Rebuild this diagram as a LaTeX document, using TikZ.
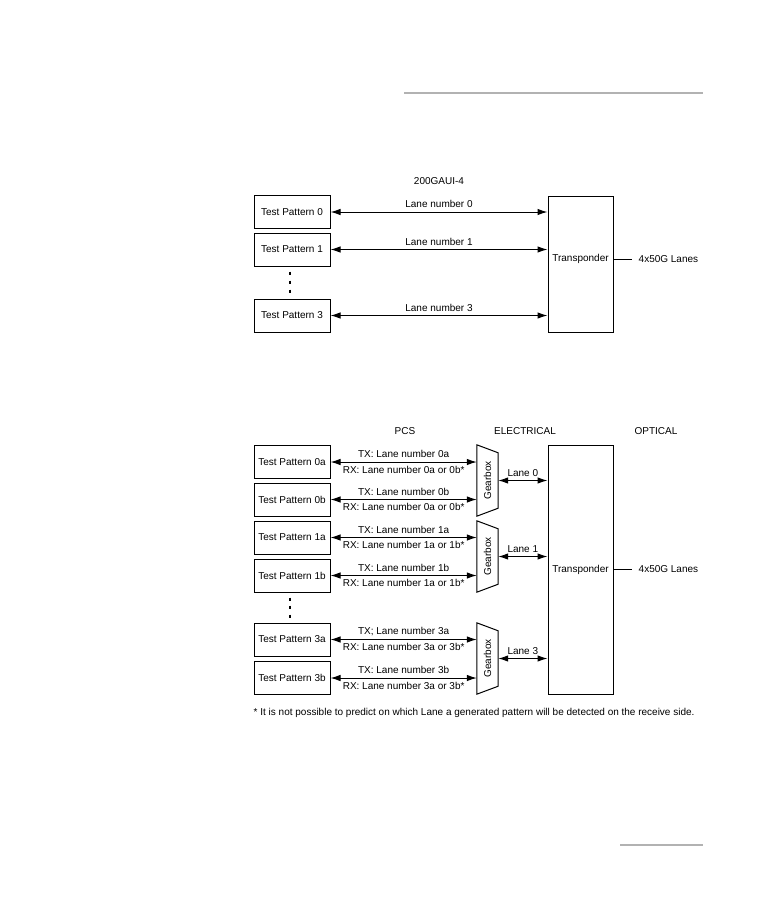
\documentclass[tikz,border=0pt]{standalone}
\usepackage{fontspec}
\setmainfont{Liberation Sans}
\usepackage{tikz}
\usetikzlibrary{arrows.meta, positioning}

\begin{document}
\begin{tikzpicture}[
      x=1pt, y=-1pt,
      patbox/.style={
         rectangle,
         draw=black,
         line width=1pt,
         inner sep=0pt,
         minimum width=76pt,
         minimum height=33pt,
         font=\fontsize{10}{12}\selectfont},
      trbox/.style={
         rectangle,
         draw=black,
         line width=1pt,
         inner sep=0pt,
         minimum width=65pt,
         font=\fontsize{10}{12}\selectfont},
      gbox/.style={
         rectangle,
         inner sep=0pt,
         minimum width=21pt,
         minimum height=71pt},
      lbl/.style={font=\fontsize{10}{12}\selectfont, inner sep=3.5pt},
      myarrow/.style={{Latex[length=10pt,width=6.5pt]}-{Latex[length=10pt,width=6.5pt]}, line width=1pt},
      rulebar/.style={line width=2.3pt, draw=black!30}
      ]
  \useasboundingbox (0,0) rectangle (756,918);

  % page rules
  \coordinate (ra) at (404,93);
  \coordinate (rb) at (703,93);
  \coordinate (rc) at (620,845);
  \coordinate (rd) at (703,845);
  \draw[rulebar] (ra) -- (rb);
  \draw[rulebar] (rc) -- (rd);

  % 200GAUI-4
  \node[lbl] (titleA) at (439,181) {200GAUI-4};
  \node[patbox] (tp0) at (292,212) {Test Pattern 0};
  \node[patbox] (tp1) at (292,249.5) {Test Pattern 1};
  \node[patbox] (tp3) at (292,315.5) {Test Pattern 3};
  \node[trbox, minimum height=136pt] (trA) at (580.5,264) {};
  \node[lbl] (trAt) at (580.5,259) {Transponder};
  \node[lbl, anchor=west] (lanesA) at (635,259) {4x50G Lanes};
  \draw[line width=1pt] (trA.east |- lanesA.west) -- ([xshift=-3pt]lanesA.west);

  \foreach \p/\txt in {tp0/Lane number 0, tp1/Lane number 1, tp3/Lane number 3}
    \draw[myarrow] (\p.east) -- node[lbl,above] {\txt} (\p.east -| trA.west);

  \foreach \y in {273,282,291}
    \draw[line width=1.3pt] (290,\y-1.5) -- (290,\y+1.5);

  % PCS / ELECTRICAL / OPTICAL
  \node[lbl] (pcs) at (405,431) {PCS};
  \node[lbl] (elec) at (525,431) {ELECTRICAL};
  \node[lbl] (opt) at (656,431) {OPTICAL};

  \foreach \n/\y in {0a/462, 0b/499.5, 1a/537.5, 1b/575.5, 3a/639.5, 3b/678}
    \node[patbox] (tp\n) at (292,\y) {Test Pattern \n};

  \foreach \g/\y in {0/480.5, 1/556.5, 3/658.5} {
    \node[gbox] (gb\g) at (487.5,\y) {};
    \draw[line width=1pt] (gb\g.north west) -- ([yshift=-8pt]gb\g.north east)
      -- ([yshift=8pt]gb\g.south east) -- (gb\g.south west) -- cycle;
    \node[lbl, rotate=90] (gb\g t) at (gb\g) {Gearbox};
  }

  \node[trbox, minimum height=249pt] (trB) at (580.5,569.5) {Transponder};
  \node[lbl, anchor=west] (lanesB) at (635,569.5) {4x50G Lanes};
  \draw[line width=1pt] (trB.east |- lanesB.west) -- ([xshift=-3pt]lanesB.west);

  \foreach \n/\g/\tx/\rx in {%
      0a/0/TX: Lane number 0a/RX: Lane number 0a or 0b*,
      0b/0/TX: Lane number 0b/RX: Lane number 0a or 0b*,
      1a/1/TX: Lane number 1a/RX: Lane number 1a or 1b*,
      1b/1/TX: Lane number 1b/RX: Lane number 1a or 1b*,
      3a/3/TX; Lane number 3a/RX: Lane number 3a or 3b*,
      3b/3/TX: Lane number 3b/RX: Lane number 3a or 3b*}
    \draw[myarrow] (tp\n.east) -- node[lbl,above] {\tx} node[lbl,below] {\rx} (tp\n.east -| gb\g.west);

  \foreach \g/\txt in {0/Lane 0, 1/Lane 1, 3/Lane 3}
    \draw[myarrow] (gb\g.east) -- node[lbl,above] {\txt} (gb\g.east -| trB.west);

  \foreach \y in {599,607,616}
    \draw[line width=1.3pt] (290,\y-1.5) -- (290,\y+1.5);

  \node[lbl, anchor=west] (note) at (250,713) {* It is not possible to predict on which Lane a generated pattern will be detected on the receive side.};
\end{tikzpicture}
\end{document}
